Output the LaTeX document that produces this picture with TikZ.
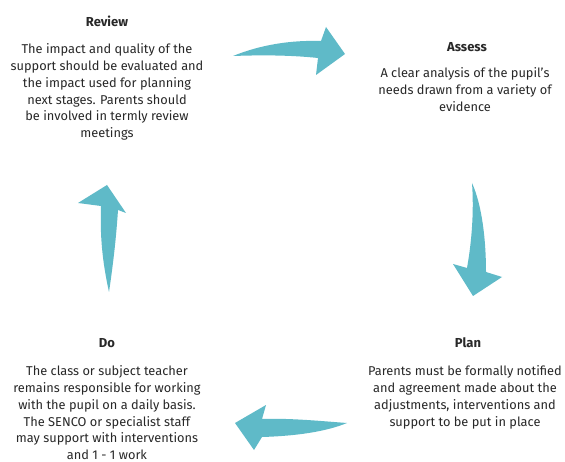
\documentclass[tikz,border=0pt]{standalone}
\usepackage{fontspec}
\setmainfont{Fira Sans}
\definecolor{arrowteal}{RGB}{95,186,200}
\definecolor{txt}{RGB}{40,40,40}
\begin{document}
\begin{tikzpicture}[x=1pt,y=-1pt,
  ttl/.style={font=\fontsize{13}{17}\selectfont\bfseries, text=txt, inner sep=0pt, anchor=base},
  body/.style={font=\fontsize{12.8}{16.8}\selectfont, text=txt, align=center, inner sep=0pt, anchor=north},
  swoosh/.style={fill=arrowteal, draw=none}]
\useasboundingbox[fill=white] (0,0) rectangle (565,462);

% texts
\node[ttl] (revt) at (107,27) {Review};
\node[body] (revb) at (107,43.5) {The impact and quality of the\\support should be evaluated and\\the impact used for planning\\next stages. Parents should\\be involved in termly review\\meetings};

\node[ttl] (asst) at (467,52) {Assess};
\node[body] (assb) at (465,67.5) {A clear analysis of the pupil's\\needs drawn from a variety of\\evidence};

\node[ttl] (plant) at (468,348) {Plan};
\node[body] (planb) at (465,365.5) {Parents must be formally notified\\and agreement made about the\\adjustments, interventions and\\support to be put in place};

\node[ttl] (dot) at (107,348) {Do};
\node[body] (dob) at (107,365.5) {The class or subject teacher\\remains responsible for working\\with the pupil on a daily basis.\\The SENCO or specialist staff\\may support with interventions\\and 1 - 1 work};

% arrows
\fill[swoosh] (233,56) .. controls (260,45) and (290,40) .. (321,41)
  -- (326,27) -- (345,54) -- (316,75) -- (318,58)
  .. controls (290,55) and (260,55) .. (233,56) -- cycle;

\fill[swoosh] (472,183) .. controls (474,210) and (472,240) .. (467,268)
  -- (453,264) -- (473,296) -- (502,277) -- (486,272)
  .. controls (486,240) and (482,205) .. (472,183) -- cycle;

\fill[swoosh] (347,423) .. controls (320,421) and (290,418) .. (262,419)
  -- (266,405) -- (235,423) -- (254,450) -- (262,437)
  .. controls (295,436) and (325,432) .. (347,423) -- cycle;

\fill[swoosh] (109,292) .. controls (102,260) and (100,235) .. (101,206)
  -- (78,203) -- (107,185) -- (126,213) -- (118,210)
  .. controls (116,240) and (113,265) .. (109,292) -- cycle;
\end{tikzpicture}
\end{document}
